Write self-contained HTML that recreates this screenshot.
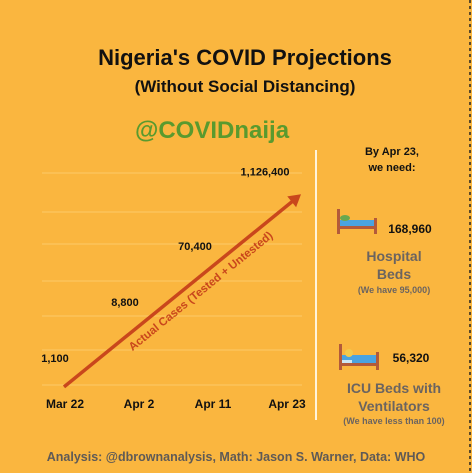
<!DOCTYPE html>
<html><head><meta charset="utf-8"><style>
html,body{margin:0;padding:0;background:#fab63f;}
svg{display:block;font-family:"Liberation Sans",sans-serif;}
</style></head><body>
<svg width="472" height="473" viewBox="0 0 472 473">
<rect x="0" y="0" width="472" height="473" fill="#fab63f"/>
<line x1="470" y1="0" x2="470" y2="473" stroke="#222" stroke-width="1.5" stroke-dasharray="3,3"/>
<text x="245" y="65" text-anchor="middle" font-size="22" font-weight="bold" fill="#111">Nigeria's COVID Projections</text>
<text x="245" y="92" text-anchor="middle" font-size="17" font-weight="bold" fill="#111">(Without Social Distancing)</text>
<text x="212" y="138" text-anchor="middle" font-size="24" font-weight="bold" fill="#5a9a2e">@COVIDnaija</text>
<line x1="316" y1="150" x2="316" y2="420" stroke="#fff4dc" stroke-width="2"/>
<g id="grid"></g><g id="marks"></g>
<text x="392" y="155" text-anchor="middle" font-size="11" font-weight="bold" fill="#111">By Apr 23,</text>
<text x="392" y="171" text-anchor="middle" font-size="11" font-weight="bold" fill="#111">we need:</text>
<g>
<rect x="337" y="209" width="3" height="25" fill="#b35a3a"/><rect x="374" y="218" width="3" height="16" fill="#b35a3a"/>
<rect x="340" y="220" width="34" height="6" fill="#4aa3e0"/><rect x="340" y="226" width="34" height="3" fill="#b35a3a"/>
<ellipse cx="345" cy="218" rx="5" ry="3" fill="#6aa84f"/></g>
<text x="410" y="233" text-anchor="middle" font-size="12" font-weight="bold" fill="#111">168,960</text>
<text x="394" y="261" text-anchor="middle" font-size="14" font-weight="bold" fill="#6b6460">Hospital</text>
<text x="394" y="279" text-anchor="middle" font-size="14" font-weight="bold" fill="#6b6460">Beds</text>
<text x="394" y="293" text-anchor="middle" font-size="9" font-weight="bold" fill="#6b6460">(We have 95,000)</text>
<g>
<rect x="339" y="344" width="3" height="26" fill="#b35a3a"/><rect x="376" y="352" width="3" height="18" fill="#b35a3a"/>
<rect x="342" y="355" width="34" height="8" fill="#4aa3e0"/><rect x="342" y="360" width="10" height="4" fill="#cde7f5"/><rect x="342" y="363" width="34" height="3" fill="#b35a3a"/>
<circle cx="349" cy="353" r="4" fill="#f2c94c"/></g>
<text x="411" y="362" text-anchor="middle" font-size="12" font-weight="bold" fill="#111">56,320</text>
<text x="394" y="393" text-anchor="middle" font-size="14" font-weight="bold" fill="#6b6460">ICU Beds with</text>
<text x="394" y="411" text-anchor="middle" font-size="14" font-weight="bold" fill="#6b6460">Ventilators</text>
<text x="394" y="424" text-anchor="middle" font-size="9" font-weight="bold" fill="#6b6460">(We have less than 100)</text>
<text x="236" y="461" text-anchor="middle" font-size="12.5" font-weight="bold" fill="#5f5a56">Analysis: @dbrownanalysis, Math: Jason S. Warner, Data: WHO</text>
</svg>
<script>
const categories = ["Mar 22","Apr 2","Apr 11","Apr 23"];
const cases = [1100, 8800, 70400, 1126400];
const caseLabels = ["1,100","8,800","70,400","1,126,400"];
const NS="http://www.w3.org/2000/svg";
const xPos = i => 65 + i*74;
const yScale = v => 358 - (Math.log10(v) - 3.04)*62;
function mk(tag, attrs, parent){const e=document.createElementNS(NS,tag);for(const k in attrs)e.setAttribute(k,attrs[k]);parent.appendChild(e);return e;}
const grid=document.getElementById('grid'), marks=document.getElementById('marks');
[173,212,244,281,316,350,385].forEach(y=>{
  const l=mk('line',{x1:42,x2:302,y1:y,y2:y,stroke:'#fcca6a','stroke-width':1},grid);
  
  
});
categories.forEach((c,i)=>{
  const t=mk('text',{x:xPos(i),y:408,'text-anchor':'middle','font-size':12,'font-weight':'bold',fill:'#111'},marks);
  t.textContent=c;
  
  
});
cases.forEach((v,i)=>{
  const t=mk('text',{x:xPos(i)-10-i*4,y:yScale(v)+4,'text-anchor':'middle','font-size':11,'font-weight':'bold',fill:'#111'},marks);
  t.textContent=caseLabels[i];
  
  
});
const x0=64, y0=yScale(cases[0])+29, x1=xPos(3)+14, y1=yScale(cases[3])+23;
const ln=mk('line',{x1:x0,y1:y0,x2:x1-6,y2:y1+5,stroke:'#c9471c','stroke-width':3.5},marks);


const ang=Math.atan2(y1-y0,x1-x0);
const hx=x1, hy=y1, bl=12, bw=7;
const bx=hx-bl*Math.cos(ang), by=hy-bl*Math.sin(ang);
const hd=mk('polygon',{points:`${hx},${hy} ${bx+bw*Math.sin(ang)},${by-bw*Math.cos(ang)} ${bx-bw*Math.sin(ang)},${by+bw*Math.cos(ang)}`,fill:'#c9471c'},marks);


const deg=ang*180/Math.PI;
const lt=mk('text',{x:203,y:294,'text-anchor':'middle','font-size':11.5,'font-weight':'bold',fill:'#c9471c',transform:`rotate(${deg} 203 294)`},marks);
lt.textContent='Actual Cases (Tested + Untested)';


</script>
</body></html>
